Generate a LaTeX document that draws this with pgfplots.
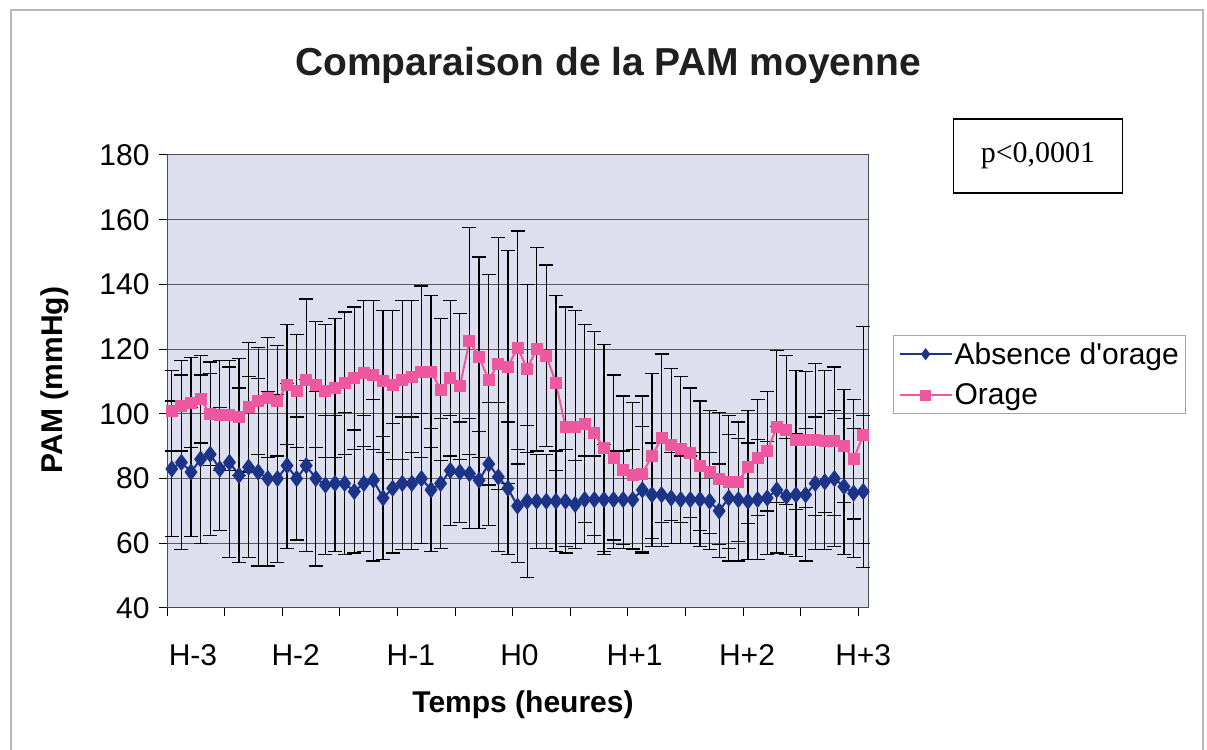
\documentclass[border=0pt]{standalone}
\usepackage{fontspec}
\setmainfont{Liberation Sans}[Ligatures=TeXOff]
\newfontfamily\timesf{Liberation Serif}
\usepackage{pgfplots}
\pgfplotsset{compat=1.18}
\usepackage{pgfplotstable}

\definecolor{navy}{RGB}{28,52,135}
\definecolor{rose}{RGB}{238,88,160}
\definecolor{plotbg}{RGB}{222,223,238}
\definecolor{gridc}{RGB}{90,90,90}

\pgfplotstableread{
i y e
0 83 21
1 85 27
2 82 20
3 86 26
4 87.5 25
5 83 19
6 85 29.5
7 81 27
8 83.5 28
9 82 29
10 80 27
11 80 26
12 84 25.5
13 80 19
14 84 26.5
15 80 27
16 78 21.5
17 78.5 21
18 78.5 22
19 76 19
20 78.5 21
21 79.5 25
22 74 19
23 77 20
24 78.5 20.5
25 78.5 20.5
26 80 20
27 76.5 19
28 78.5 20
29 82.5 17
30 82 15.5
31 81.5 17
32 79.5 15
33 84.5 19
34 80.5 23
35 77 20.5
36 71.5 17.5
37 73 23.5
38 73 14.5
39 73 14.5
40 73 15.5
41 73 16
42 72 13.5
43 73.5 13.5
44 73.5 13.5
45 73.5 17
46 73.5 15
47 73.5 15
48 73.5 15.5
49 76.5 19.5
50 75 16
51 75 16
52 74 14
53 73.5 13.5
54 73.5 13.5
55 73.5 14.5
56 73 15
57 70 14.5
58 74 19.5
59 73.5 19
60 73 18
61 73.5 18.5
62 74 17.5
63 76.5 19.5
64 74.5 18
65 75 19
66 75 20.5
67 78.5 20.5
68 79 21
69 80 21
70 77.5 21
71 75.5 20
72 76 23.5
}\absence

\pgfplotstableread{
i y e
0 101 12.5
1 102.5 14
2 103.5 14
3 104.5 13.5
4 100 16
5 99.5 17
6 99.5 17
7 99 18
8 102 20
9 104 16.5
10 105 18.5
11 104 17
12 109 18.5
13 107 17.5
14 110.5 25
15 109 19.5
16 107 20.5
17 108 21.5
18 109.5 22
19 111 22
20 112.5 22.5
21 112 23
22 110 22
23 109 23
24 110.5 24.5
25 111.5 23.5
26 113 26.5
27 113 23.5
28 107.5 22
29 111 24
30 108.5 22.5
31 122.5 35
32 117.5 31
33 110.5 32.5
34 115.5 39
35 114.5 36
36 120.5 36
37 114 26
38 120 31.5
39 118 28
40 109.5 27
41 96 37
42 96 36
43 97 30.5
44 94 31.5
45 89.5 32
46 86.5 25.5
47 82.5 23
48 81 22.5
49 81.5 24
50 87 25.5
51 92.5 26
52 90.5 23.5
53 89 22.5
54 88 20
55 84 20
56 82 19
57 80 20.5
58 79 20.5
59 79 18.5
60 83.5 17.5
61 86.5 18
62 88.5 18.5
63 96 23.5
64 95 23
65 92 21.5
66 92 21
67 92 23.5
68 91.5 22
69 91.5 23
70 90 17.5
71 86 18.5
72 93.5 33.5
}\orage

\begin{document}
\begin{tikzpicture}[x=1bp,y=1bp]
\useasboundingbox (0,0) rectangle (1207,750);
\fill[white] (0,0) rectangle (1207,750);
\draw[gray!55, line width=1.5bp] (11,0) -- (11,740) -- (1203,740) -- (1203,0);
\begin{axis}[
  at={(167bp,142bp)}, anchor=south west,
  width=701bp, height=453bp, scale only axis,
  xmin=-0.5, xmax=72.5, ymin=40, ymax=180,
  axis background/.style={fill=plotbg},
  axis line style={gray!60!black, line width=1bp},
  ytick={40,60,...,180},
  ymajorgrids, grid style={gridc, line width=1bp},
  xtick={2.2,12.9,24.9,36.2,48.2,59.9,72},
  xticklabels={H-3,H-2,H-1,H0,H+1,H+2,H+3},
  minor xtick={-0.5,5.5,...,71.5},
  every tick/.style={black, line width=1bp},
  major x tick style={draw=none},
  tick align=outside,
  major tick length=8bp, minor tick length=8bp,
  xtick pos=bottom, ytick pos=left,
  ticklabel style={font=\fontsize{30bp}{36bp}\selectfont},
  /pgf/number format/assume math mode=true,
  xticklabel style={yshift=-25bp},
  yticklabel style={xshift=-6bp},
  legend style={at={(axis description cs:1.0357,0.6026)}, anchor=north west,
    draw=gray!70, line width=1.2bp, fill=white,
    font=\fontsize{30bp}{36bp}\selectfont, inner sep=5bp, row sep=14bp,
    /tikz/every even column/.append style={column sep=9bp}},
  legend cell align=left,
  legend image code/.code={\draw[mark repeat=2,mark phase=2,mark size=4.5bp] plot coordinates {(0bp,0bp) (26bp,0bp) (52bp,0bp)};},
  clip=false,
]
\addplot[navy, line width=2bp, mark=diamond*, mark size=7bp,
  mark options={fill=navy, draw=navy, solid},
  error bars/.cd, y dir=both, y explicit,
  error bar style={black, line width=1.2bp},
  error mark options={rotate=90, black, mark size=7bp, line width=1.2bp}]
  table[x=i, y=y, y error=e] {\absence};
\addplot[rose, line width=2bp, mark=square*, mark size=5bp,
  mark options={fill=rose, draw=rose, solid},
  error bars/.cd, y dir=both, y explicit,
  error bar style={black, line width=1.2bp},
  error mark options={rotate=90, black, mark size=7bp, line width=1.2bp}]
  table[x=i, y=y, y error=e] {\orage};
\legend{Absence d'orage, Orage}
\end{axis}
\node[font=\bfseries\fontsize{39bp}{46bp}\selectfont, text=black!88] at (608,685) {Comparaison de la PAM moyenne};
\node[rotate=90, font=\bfseries\fontsize{30bp}{36bp}\selectfont] at (55,370) {PAM (mmHg)};
\node[font=\bfseries\fontsize{30bp}{36bp}\selectfont] at (523,45) {Temps (heures)};
\node[draw=black, line width=1.5bp, minimum width=169bp, minimum height=74bp, font=\timesf\fontsize{30bp}{36bp}\selectfont] at (1038,594) {p<0,0001};
\end{tikzpicture}
\end{document}
